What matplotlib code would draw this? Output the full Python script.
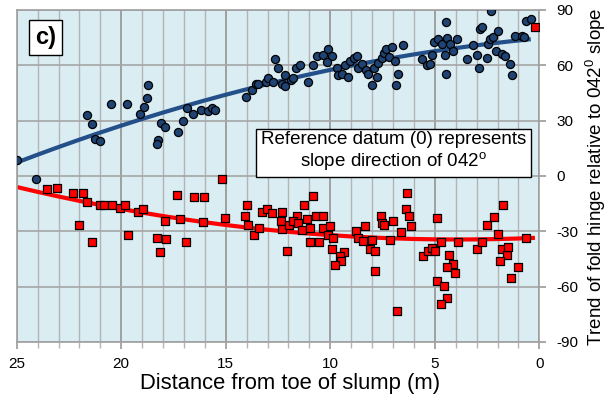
import numpy as np
import matplotlib
matplotlib.use("Agg")
import matplotlib.pyplot as plt
from matplotlib.ticker import MultipleLocator

plt.rcParams['font.family'] = ['Liberation Sans', 'DejaVu Sans']
plt.rcParams['mathtext.fontset'] = 'custom'
plt.rcParams['mathtext.rm'] = 'Liberation Sans'

# Blue circles: distance (m), trend (deg)
blue_dist = [25.0, 24.1, 21.64, 21.42, 21.26, 21.0, 20.51, 19.71, 19.1, 18.93, 18.76, 18.71,
             18.1, 17.91, 18.25, 18.3, 17.29, 17.05, 16.86, 16.56, 16.19, 15.84, 15.65, 15.52,
             14.02, 13.73, 13.57, 13.44, 13.09, 12.97, 12.76, 12.62, 12.5,
             12.17, 12.3, 12.17, 11.88, 11.77, 11.64, 11.45, 11.05, 10.81, 10.65, 10.33, 10.1,
             9.93, 10.17, 9.69, 9.62, 9.45, 9.17, 9.3, 9.06, 8.85, 8.74, 8.66, 8.47, 8.31, 8.18,
             7.99, 7.89, 7.78, 7.7, 7.54, 7.42, 7.35, 7.06, 7.19, 6.9, 6.75, 6.84, 6.51,
             5.63, 5.39, 5.23, 5.12, 5.02, 4.86, 4.67, 4.51, 4.48, 4.48, 4.43, 4.27, 4.11, 3.95,
             3.44, 3.16, 2.98, 2.89, 2.84, 2.73, 2.52, 2.44, 2.36, 2.2, 2.31, 1.99, 2.09, 1.77,
             1.64, 1.4, 1.32, 1.16, 0.84, 0.72, 0.65, 0.41]
blue_trend = [8.5, -1.5, 33.3, 28.2, 19.8, 19.1, 38.9, 38.9, 33.8, 37.6, 42.0, 49.2,
              28.5, 26.5, 19.5, 17.5, 23.6, 30.0, 37.0, 33.6, 35.6, 35.0, 37.0, 35.6,
              42.8, 46.8, 49.7, 50.1, 51.2, 53.0, 51.2, 63.4, 58.8,
              54.8, 50.1, 48.8, 51.9, 53.0, 58.3, 60.0, 51.0, 60.0, 65.1, 65.7, 69.1,
              65.1, 61.8, 58.4, 54.8, 55.2, 53.7, 60.0, 62.1, 64.2, 65.1, 58.3, 60.6, 57.3, 55.2,
              49.3, 58.4, 53.7, 61.5, 64.2, 66.4, 69.1, 70.0, 64.6, 62.1, 55.2, 49.3, 70.9,
              63.3, 60.0, 60.6, 65.5, 72.9, 74.2, 71.8, 65.7, 55.2, 83.3, 74.7, 71.5, 67.8, 74.2,
              63.3, 71.1, 65.7, 58.8, 79.6, 80.9, 64.2, 71.8, 74.2, 75.1, 89.2, 78.4, 67.8, 66.0,
              65.1, 60.6, 54.8, 76.0, 76.0, 75.1, 83.8, 85.0]

# Red squares: distance (m), trend (deg)
red_dist = [23.55, 23.06, 22.31, 21.82, 21.64, 22.02, 21.4, 21.02, 20.81, 20.46, 20.06, 19.82,
            19.67, 19.22, 18.95, 18.31, 18.15, 17.86, 17.91, 17.35, 17.19, 16.89, 16.51, 16.04,
            16.1, 15.2, 15.04, 13.97, 14.08, 13.92, 13.64, 13.4, 13.28, 13.04, 12.77,
            12.3, 12.36, 12.33, 11.98, 12.09, 11.61, 11.77, 11.53, 11.24, 11.13, 11.37, 10.97,
            10.81, 10.7, 10.33, 10.97, 10.54, 10.33, 10.01, 10.1, 9.86, 9.93, 9.34, 9.54, 9.49,
            9.78, 8.77, 8.66, 8.34, 8.42, 8.1, 7.86, 7.86, 8.02, 7.57, 7.54, 7.42, 7.14, 6.99,
            6.79, 6.62, 6.34, 6.39, 6.22, 6.14, 4.88, 5.55, 5.31, 5.15, 4.99, 4.72, 4.32, 4.11,
            4.43, 4.03, 4.88, 4.55, 4.43, 4.7, 3.88, 3.0, 2.76, 2.49, 2.15, 1.72, 1.99, 1.77,
            1.53, 1.48, 1.88, 1.37, 1.0, 0.65, 0.21]
red_trend = [-7.3, -6.8, -9.1, -9.1, -14.2, -26.4, -36.1, -15.5, -16.0, -16.0, -17.5, -16.0,
             -32.2, -19.3, -18.2, -33.6, -41.2, -34.1, -24.6, -10.6, -23.3, -36.1, -11.3, -11.3,
             -25.1, -1.5, -22.7, -15.5, -21.5, -26.4, -32.3, -28.4, -19.3, -18.2, -20.0,
             -19.5, -24.2, -28.7, -26.4, -40.5, -21.5, -24.6, -25.4, -16.0, -23.3, -29.1, -28.2,
             -11.0, -21.5, -21.5, -36.0, -36.0, -28.2, -26.9, -31.8, -33.6, -39.4, -41.0, -43.6, -46.3,
             -48.5, -29.6, -33.6, -26.9, -35.4, -39.6, -40.9, -51.7, -34.5, -21.5, -25.4, -26.4, -34.5, -24.6,
             -73.5, -30.2, -9.1, -17.7, -21.5, -26.9, -22.7, -43.2, -40.9, -39.0, -40.9, -36.0, -42.7, -47.7,
             -49.6, -52.8, -56.8, -59.9, -66.2, -69.5, -36.0, -39.4, -36.0, -26.4, -22.4, -16.0, -31.4, -39.4,
             -42.7, -38.5, -46.3, -55.3, -49.6, -33.6, 81.0]

x_ticks = [25, 20, 15, 10, 5, 0]
y_ticks = [90, 60, 30, 0, -30, -60, -90]

fig = plt.figure(figsize=(6.07, 4.07), dpi=100)
ax = fig.add_axes([0.0275, 0.160, 0.861, 0.8155])
ax.set_facecolor('#daedf3')

# grid
ax.xaxis.set_major_locator(MultipleLocator(5))
ax.xaxis.set_minor_locator(MultipleLocator(1))
ax.set_yticks(y_ticks)
ax.grid(which='minor', axis='x', color='#b4b4b4', lw=1.0, zorder=0)
ax.grid(which='major', axis='x', color='#9a9a9a', lw=1.3, zorder=0)
ax.grid(which='major', axis='y', color='#a6a6a6', lw=1.2, zorder=0)
ax.set_axisbelow(True)

# trend lines (2nd order polynomial fits of the data)
bd = np.array(blue_dist); bt = np.array(blue_trend)
cb = np.polyfit(bd, bt, 2)
xb = np.linspace(bd.max(), bd.min(), 200)
ax.plot(xb, np.polyval(cb, xb), color='#24508a', lw=3.0, zorder=2, solid_capstyle='butt')

rd = np.array(red_dist); rt = np.array(red_trend)
cr = np.polyfit(rd, rt, 2)
xr = np.linspace(bd.max(), rd.min(), 200)
ax.plot(xr, np.polyval(cr, xr), color='#ff0000', lw=3.0, zorder=2, solid_capstyle='butt')

ax.scatter(blue_dist, blue_trend, s=34, marker='o', facecolor='#1f4372', edgecolor='black',
           linewidths=0.9, zorder=3)
ax.scatter(red_dist, red_trend, s=40, marker='s',
           facecolor='#ff0000', edgecolor='black', linewidths=0.9, zorder=3)

ax.set_xlim(25, 0)
ax.set_ylim(-90, 90)
ax.set_xticks(x_ticks)
ax.set_xticklabels([str(v) for v in x_ticks])
ax.yaxis.tick_right()
ax.set_yticklabels([str(v) for v in y_ticks])
ax.tick_params(axis='x', which='major', length=5, width=1.2, color='#9a9a9a', labelsize=11, pad=6)
ax.tick_params(axis='x', which='minor', length=4, width=1.0, color='#b4b4b4')
ax.tick_params(axis='y', which='major', length=5, width=1.2, color='#9a9a9a', labelsize=11, pad=7)
for s in ax.spines.values():
    s.set_color('#a0a0a0')
    s.set_linewidth(1.2)

fig.text(596 / 607, 0.566, 'Trend of fold hinge relative to 042$^{0}$ slope', fontsize=13.5,
         rotation=90, ha='center', va='center')
fig.text(0.478, 0.057, 'Distance from toe of slump (m)', fontsize=15.8, ha='center', va='center')

ax.text(0.055, 0.918, 'c)', transform=ax.transAxes, fontsize=17, fontweight='bold',
        ha='center', va='center',
        bbox=dict(boxstyle='square,pad=0.25', facecolor='white', edgecolor='black', lw=1.0), zorder=5)

ax.text(0.721, 0.572, 'Reference datum (0) represents\nslope direction of 042$^{\\mathregular{o}}$',
        transform=ax.transAxes, fontsize=13.5, ha='center', va='center', linespacing=1.1,
        multialignment='center',
        bbox=dict(boxstyle='square,pad=0.25', facecolor='white', edgecolor='black', lw=1.0), zorder=5)

fig.savefig('out.png', dpi=100)
